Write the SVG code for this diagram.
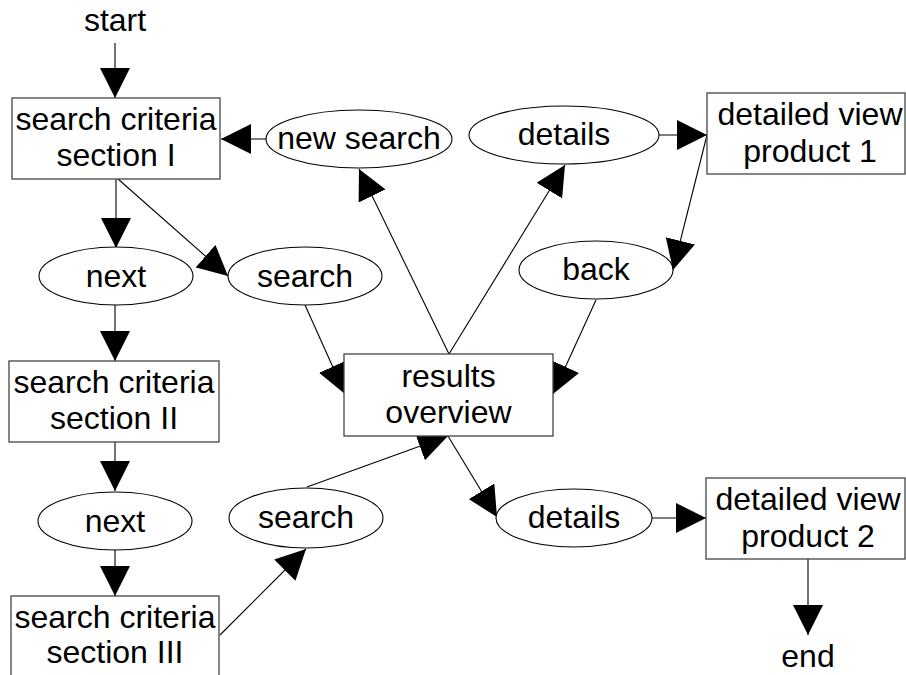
<svg xmlns="http://www.w3.org/2000/svg" width="906" height="675" viewBox="0 0 906 675">
<style>
text{font-family:"Liberation Sans",Arial,sans-serif;font-size:32px;fill:#000;text-anchor:middle}
.box{fill:#fff;stroke:#444;stroke-width:1.3}
.ell{fill:#fff;stroke:#000;stroke-width:1.1}
.c line{stroke:#000;stroke-width:1.1;marker-end:url(#ah)}
</style>
<defs>
<marker id="ah" markerUnits="userSpaceOnUse" markerWidth="30" markerHeight="30" viewBox="0 0 30 30" refX="30" refY="15" orient="auto">
<path d="M0,0 L30,15 L0,30 z" fill="#000"/>
</marker>
</defs>
<rect width="906" height="675" fill="#fff"/>
<g id="connectors" class="c">
<line x1="115" y1="43" x2="115" y2="98"/>
<line x1="116" y1="179" x2="116" y2="248"/>
<line x1="115" y1="305" x2="115" y2="361"/>
<line x1="115" y1="442" x2="115" y2="491"/>
<line x1="115" y1="550" x2="115" y2="596"/>
<line x1="118" y1="179" x2="228" y2="276"/>
<line x1="266" y1="139" x2="221" y2="139"/>
<line x1="305" y1="305" x2="345" y2="394"/>
<line x1="449" y1="354" x2="359" y2="169"/>
<line x1="449" y1="354" x2="565" y2="165"/>
<line x1="659" y1="135" x2="707" y2="135"/>
<line x1="707" y1="135" x2="673" y2="270"/>
<line x1="596" y1="300" x2="553" y2="394"/>
<line x1="220" y1="635" x2="306" y2="549"/>
<line x1="307" y1="487" x2="448" y2="436"/>
<line x1="448" y1="436" x2="497" y2="517"/>
<line x1="652" y1="518" x2="706" y2="518"/>
<line x1="808" y1="559" x2="808" y2="635"/>
</g>
<g id="start"><text x="115" y="31">start</text></g>
<g id="criteria1"><rect class="box" x="12" y="98" width="208" height="81"/><text x="116" y="130">search criteria</text><text x="116" y="166">section I</text></g>
<g id="newsearch"><ellipse class="ell" cx="359" cy="139" rx="93" ry="29"/><text x="359" y="149">new search</text></g>
<g id="next1"><ellipse class="ell" cx="116" cy="276" rx="77" ry="29"/><text x="116" y="287">next</text></g>
<g id="search1"><ellipse class="ell" cx="305" cy="276" rx="77" ry="29"/><text x="305" y="287">search</text></g>
<g id="details1"><ellipse class="ell" cx="564" cy="135" rx="95" ry="29"/><text x="564" y="145">details</text></g>
<g id="product1"><rect class="box" x="707" y="93" width="198" height="81"/><text x="810" y="125">detailed view</text><text x="810" y="162">product 1</text></g>
<g id="back"><ellipse class="ell" cx="596" cy="270" rx="77" ry="29"/><text x="596" y="280">back</text></g>
<g id="results"><rect class="box" x="344" y="354" width="209" height="82"/><text x="448.5" y="387">results</text><text x="448.5" y="423">overview</text></g>
<g id="criteria2"><rect class="box" x="9" y="361" width="210" height="81"/><text x="114" y="393">search criteria</text><text x="114" y="429">section II</text></g>
<g id="next2"><ellipse class="ell" cx="115" cy="521" rx="77" ry="29"/><text x="115" y="532">next</text></g>
<g id="search2"><ellipse class="ell" cx="306" cy="518" rx="77" ry="30"/><text x="306" y="528">search</text></g>
<g id="criteria3"><rect class="box" x="11" y="596" width="208" height="81"/><text x="115" y="628">search criteria</text><text x="115" y="663">section III</text></g>
<g id="details2"><ellipse class="ell" cx="574" cy="518" rx="78" ry="29"/><text x="574" y="528">details</text></g>
<g id="product2"><rect class="box" x="706" y="478" width="199" height="81"/><text x="808" y="510">detailed view</text><text x="808" y="547">product 2</text></g>
<g id="end"><text x="808" y="667">end</text></g>
</svg>
